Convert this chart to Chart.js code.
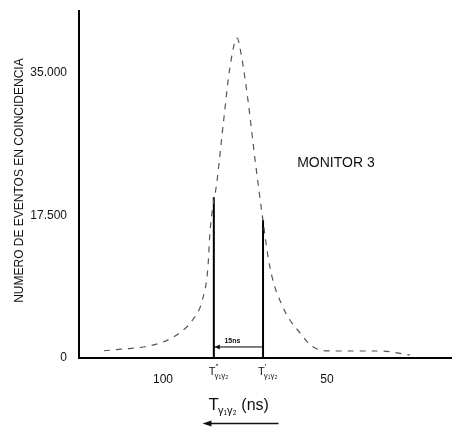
<!DOCTYPE html>
<html>
<head>
<meta charset="utf-8">
<script src="https://cdn.jsdelivr.net/npm/chart.js@4"></script>
<style>
  html, body { margin: 0; padding: 0; background: #fff; }
  #wrap { width: 452px; height: 427px; }
</style>
</head>
<body>
<div id="wrap"><canvas id="chart" width="452" height="427"></canvas></div>
<script>
// coincidence curve (time in ns, axis runs right to left)
var timeNs = [118, 112, 106, 100, 95, 91, 88, 86.3, 85.7, 83.5, 81.4, 79.6, 77.4, 76.2, 74.1, 71.9, 69.8, 67.4, 63.4, 58.2, 53.7, 48.2, 33.8, 24.7];
var counts = [890, 1100, 1350, 1960, 3060, 4650, 7100, 11100, 15300, 21800, 29500, 35600, 39200, 37300, 31600, 24200, 17700, 11100, 6200, 3060, 1220, 860, 860, 370];

// the two timing cuts and the 15 ns window between them
var cutTimes = [84.5, 69.5];
var cutHeights = [19700, 16900];
var cutPrimes = ['\u2033', '\u2032'];
var windowLevel = 1350;
var windowLabel = '15ns';

var xTicks = [100, 50];
var yTicks = [0, 17500, 35000];
var xRange = [11.9, 125.6];
var yMax = 42500;

var monitorLabel = 'MONITOR 3';
var yTitle = 'NUMERO DE EVENTOS EN COINCIDENCIA';

function toPoints(xs, ys) {
  return xs.map(function (v, i) { return { x: v, y: ys[i] }; });
}

function formatCount(v) {
  return String(v).replace(/\B(?=(\d{3})+(?!\d))/g, '.');
}

// draws "T" with a subscript gamma pair, optional prime
function drawTSub(ctx, x, y, big, small, prime) {
  ctx.textAlign = 'left';
  ctx.textBaseline = 'alphabetic';
  ctx.font = big + 'px "Liberation Sans", sans-serif';
  ctx.fillText('T', x, y);
  var w = ctx.measureText('T').width;
  if (prime) {
    ctx.font = small + 'px "Liberation Sans", sans-serif';
    ctx.fillText(prime, x + w, y - big * 0.55);
  }
  ctx.font = small + 'px "Liberation Sans", sans-serif';
  var sub = '\u03b3\u2081\u03b3\u2082';
  ctx.fillText(sub, x + w - 1, y + small * 0.35);
  return w + ctx.measureText(sub).width - 1;
}

var annotatePlugin = {
  id: 'annotate',
  afterDraw: function (chart) {
    var ctx = chart.ctx;
    var xs = chart.scales.x;
    var ys = chart.scales.y;
    ctx.save();
    ctx.fillStyle = '#111';
    ctx.strokeStyle = '#111';

    // arrowhead of the 15 ns window, pointing at the first cut
    var ax = xs.getPixelForValue(cutTimes[0]);
    var ay = ys.getPixelForValue(windowLevel);
    ctx.beginPath();
    ctx.moveTo(ax + 1, ay);
    ctx.lineTo(ax + 6, ay - 2.5);
    ctx.lineTo(ax + 6, ay + 2.5);
    ctx.closePath();
    ctx.fill();

    ctx.font = 'bold 7px "Liberation Sans", sans-serif';
    ctx.textAlign = 'center';
    ctx.textBaseline = 'bottom';
    ctx.fillText(windowLabel, (ax + xs.getPixelForValue(cutTimes[1])) / 2 - 6, ay - 2);

    // cut labels under the axis
    cutTimes.forEach(function (t, i) {
      var px = xs.getPixelForValue(t);
      drawTSub(ctx, px - 5, ys.bottom + 17, 11, 8, cutPrimes[i]);
    });

    // monitor tag
    ctx.font = '14px "Liberation Sans", sans-serif';
    ctx.textAlign = 'left';
    ctx.textBaseline = 'middle';
    ctx.fillText(monitorLabel, xs.getPixelForValue(59.1), ys.getPixelForValue(23900));

    // rotated y title
    ctx.save();
    ctx.translate(20, (ys.top + ys.bottom) / 2 - 4);
    ctx.rotate(-Math.PI / 2);
    ctx.font = '12px "Liberation Sans", sans-serif';
    ctx.textAlign = 'center';
    ctx.textBaseline = 'middle';
    ctx.fillText(yTitle, 0, 0);
    ctx.restore();

    // x title with arrow showing direction of increasing time
    var cx = (xs.left + xs.right) / 2 - 24;
    var w = drawTSub(ctx, cx - 33, 410, 17, 11, null);
    ctx.font = '16px "Liberation Sans", sans-serif';
    ctx.textAlign = 'left';
    ctx.fillText(' (ns)', cx - 33 + w, 410);

    ctx.lineWidth = 1.5;
    ctx.beginPath();
    ctx.moveTo(cx - 33, 423.5);
    ctx.lineTo(cx + 37, 423.5);
    ctx.stroke();
    ctx.beginPath();
    ctx.moveTo(cx - 39, 423.5);
    ctx.lineTo(cx - 30, 420.5);
    ctx.lineTo(cx - 30, 426.5);
    ctx.closePath();
    ctx.fill();
    ctx.restore();
  }
};

function drawChart() {
  var ctx = document.getElementById('chart').getContext('2d');

  var datasets = [{
    data: toPoints(timeNs, counts),
    borderColor: '#555',
    borderWidth: 1.2,
    borderDash: [6, 6],
    pointRadius: 0,
    cubicInterpolationMode: 'monotone',
    fill: false
  }];

  cutTimes.forEach(function (t, i) {
    datasets.push({
      data: [{ x: t, y: 0 }, { x: t, y: cutHeights[i] }],
      borderColor: '#000',
      borderWidth: 2,
      pointRadius: 0,
      fill: false
    });
  });

  datasets.push({
    data: [{ x: cutTimes[0], y: windowLevel }, { x: cutTimes[1], y: windowLevel }],
    borderColor: '#000',
    borderWidth: 1,
    pointRadius: 0,
    fill: false
  });

  new Chart(ctx, {
    type: 'line',
    data: { datasets: datasets },
    plugins: [annotatePlugin],
    options: {
      responsive: false,
      animation: false,
      layout: { padding: { top: 10, right: 0, left: 0, bottom: 0 } },
      plugins: {
        legend: { display: false },
        tooltip: { enabled: false }
      },
      scales: {
        x: {
          type: 'linear',
          reverse: true,
          min: xRange[0],
          max: xRange[1],
          afterFit: function (scale) { scale.height = 69; },
          afterBuildTicks: function (scale) {
            scale.ticks = xTicks.map(function (v) { return { value: v }; });
          },
          grid: { display: false },
          border: { color: '#000', width: 2 },
          ticks: {
            color: '#111',
            padding: 6,
            font: { family: 'Liberation Sans', size: 12 }
          }
        },
        y: {
          min: 0,
          max: yMax,
          afterFit: function (scale) { scale.width = 79; },
          afterBuildTicks: function (scale) {
            scale.ticks = yTicks.map(function (v) { return { value: v }; });
          },
          grid: { display: false },
          border: { color: '#000', width: 2 },
          ticks: {
            color: '#111',
            padding: 4,
            font: { family: 'Liberation Sans', size: 12 },
            callback: function (v) { return formatCount(v); }
          }
        }
      }
    }
  });
}

drawChart();
</script>
</body>
</html>
